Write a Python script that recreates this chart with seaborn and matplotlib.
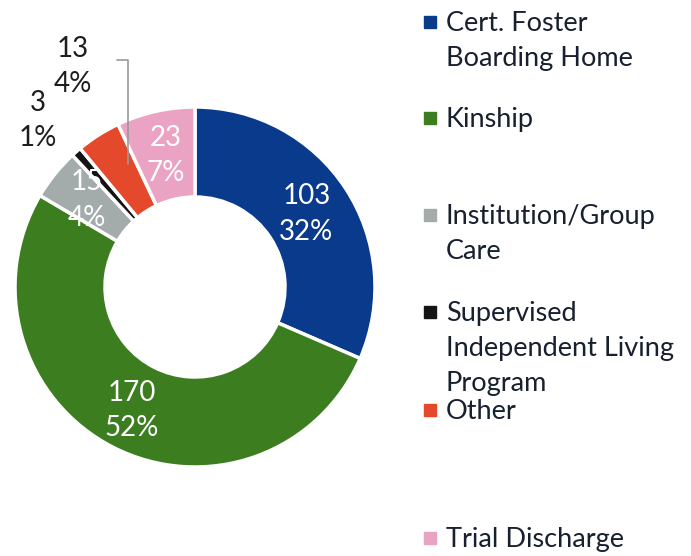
import matplotlib
matplotlib.use("Agg")
import matplotlib.pyplot as plt
import seaborn as sns
import numpy as np
from matplotlib.patches import Rectangle

sns.set_theme(style="white")
plt.rcParams["font.family"] = ["Lato", "DejaVu Sans"]

# Placement counts by type
categories = ["Cert. Foster\nBoarding Home", "Kinship", "Institution/Group\nCare",
              "Supervised\nIndependent Living\nProgram", "Other", "Trial Discharge"]
counts = [103, 170, 15, 3, 13, 23]
pct_labels = ["32%", "52%", "4%", "1%", "4%", "7%"]
colors = ["#0A3A8C", "#3B7D1F", "#A3ABAB", "#141414", "#E5492B", "#EBA3C3"]

W, H = 691, 556
fig = plt.figure(figsize=(W / 100, H / 100), dpi=100)

# donut centre and radius in pixels
cx, cy, R = 195, 287, 180
ax = fig.add_axes([(cx - R) / W, (H - cy - R) / H, 2 * R / W, 2 * R / H])
wedges, _ = ax.pie(counts, colors=colors, startangle=90, counterclock=False,
                   radius=1.0, wedgeprops=dict(width=0.5, edgecolor="white", linewidth=2.5))
ax.set_xlim(-1, 1)
ax.set_ylim(-1, 1)
ax.set_aspect("equal")
ax.axis("off")

# wedge mid-angles (degrees, mathematical convention)
mids = [(w.theta1 + w.theta2) / 2 for w in wedges]

# label radius and angular nudge per wedge
label_r = [0.74, 0.77, 0.77, 1.27, 1.40, 0.75]
label_da = [0, 0, 0, 2, -3.5, 0]
label_color = ["white", "white", "white", "#1E1E1E", "#1E1E1E", "white"]
for i, (n, p) in enumerate(zip(counts, pct_labels)):
    a = np.deg2rad(mids[i] + label_da[i])
    x, y = label_r[i] * np.cos(a), label_r[i] * np.sin(a)
    ax.text(x, y, f"{n}\n{p}", ha="center", va="center", fontsize=20,
            color=label_color[i], linespacing=1.45, clip_on=False)

# leader line for the "Other" label
a = np.deg2rad(mids[4] - 4)
x0, y0 = 0.78 * np.cos(a), 0.78 * np.sin(a)
ytop = 1.26
ax.plot([x0, x0, x0 - 0.06], [y0, ytop, ytop], color="#9A9A9A", lw=1.2, clip_on=False)

# legend entries on the right
legend_y = [22, 118, 215, 312, 410, 538]
text_col = "#17202E"
for c, lab, y in zip(colors, categories, legend_y):
    fig.patches.append(Rectangle(((430 - 6) / W, 1 - (y + 6) / H), 12 / W, 12 / H,
                                 transform=fig.transFigure, color=c))
    fig.text(446 / W, 1 - (y - 11) / H, lab, ha="left", va="top", fontsize=19.5,
             color=text_col, linespacing=1.5)

fig.savefig("out.png", dpi=100, facecolor="white")
